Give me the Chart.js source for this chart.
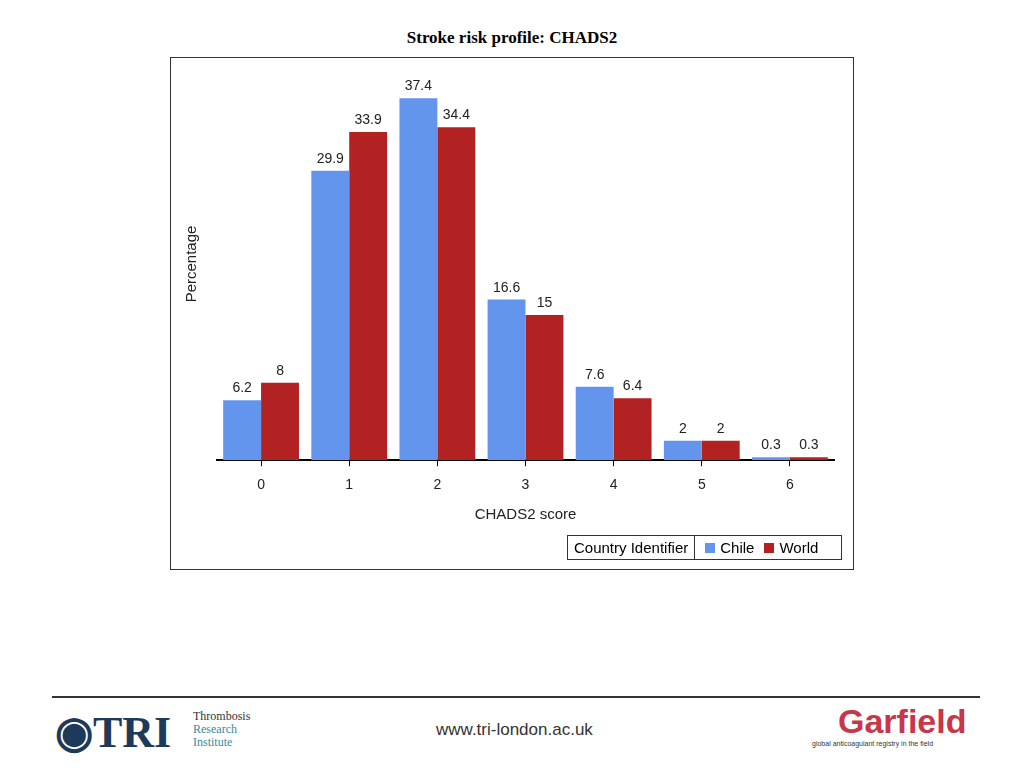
<!DOCTYPE html>
<html><head><meta charset="utf-8">
<script src="https://cdn.jsdelivr.net/npm/chart.js@4"></script>
<style>
body{margin:0;width:1024px;height:768px;background:#fff;position:relative;font-family:"Liberation Sans",Arial,sans-serif}
#title{position:absolute;top:28px;width:1024px;text-align:center;font:bold 17px "Liberation Serif",serif}
#box{position:absolute;left:170px;top:57px;width:682px;height:511px;border:1px solid #333}
#legend{position:absolute;left:567px;top:535px;width:273px;height:23px;border:1px solid #333;font-size:15px;display:flex;align-items:center}
#legend .k{border-right:1px solid #333;padding:0 6px;height:100%;display:flex;align-items:center}
.sw{display:inline-block;width:10px;height:10px;margin:0 5px 0 10px}
#foot{position:absolute;left:52px;top:696px;width:928px;border-top:2px solid #333}
</style></head><body>
<div id="title">Stroke risk profile: CHADS2</div>
<div id="box"><canvas id="c" width="682" height="511"></canvas></div>
<div id="legend"><span class="k">Country Identifier</span><span class="sw" style="background:#6495ed"></span>Chile<span class="sw" style="background:#b22222"></span>World</div>
<div id="foot"></div>
<div style="position:absolute;left:55px;top:706px;font:bold 44px 'Liberation Serif',serif;color:#1e3a5a">◉TRI</div>
<div style="position:absolute;left:193px;top:710px;font:12px 'Liberation Serif',serif;line-height:13px;color:#333">Thrombosis<br><span style="color:#3a8a9a">Research<br>Institute</span></div>
<div style="position:absolute;left:436px;top:720px;font-size:17px;color:#333">www.tri-london.ac.uk</div>
<div style="position:absolute;left:838px;top:702px;font:bold 34px 'Liberation Sans',sans-serif;color:#c8364a">Garfield</div>
<div style="position:absolute;left:812px;top:740px;font-size:7px;color:#333">global anticoagulant registry in the field</div>
<script>
const categories = ['0','1','2','3','4','5','6'];
const chile = [6.2, 29.9, 37.4, 16.6, 7.6, 2, 0.3];
const world = [8, 33.9, 34.4, 15, 6.4, 2, 0.3];

const labelPlugin = {
  id: 'labels',
  afterDatasetsDraw(chart) {
    const ctx = chart.ctx;
    ctx.save();
    ctx.fillStyle = '#222';
    ctx.font = '14px "Liberation Sans", Arial';
    ctx.textAlign = 'center';
    chart.data.datasets.forEach((ds, i) => {
      chart.getDatasetMeta(i).data.forEach((bar, j) => {
        ctx.fillText(String(ds.data[j]), bar.x, bar.y - 8);
      });
    });
    ctx.translate(25, 206);
    ctx.rotate(-Math.PI / 2);
    ctx.font = '15px "Liberation Sans", Arial';
    ctx.fillText('Percentage', 0, 0);
    ctx.restore();
  }
};

new Chart(document.getElementById('c'), {
  type: 'bar',
  data: {
    labels: categories,
    datasets: [
      { label: 'Chile', data: chile, backgroundColor: '#6495ed' },
      { label: 'World', data: world, backgroundColor: '#b22222' }
    ]
  },
  options: {
    responsive: false,
    animation: false,
    layout: { padding: { left: 46, right: 19, top: 15 } },
    datasets: { bar: { categoryPercentage: 0.86, barPercentage: 1 } },
    plugins: { legend: { display: false }, tooltip: { enabled: false } },
    scales: {
      y: { display: false, min: 0, max: 40 },
      x: {
        grid: { drawOnChartArea: false, offset: false, color: '#000', tickLength: 6 },
        border: { color: '#000', width: 2 },
        ticks: { color: '#222', font: { size: 14, family: 'Liberation Sans' }, padding: 11 },
        title: { display: true, text: 'CHADS2 score', color: '#222', font: { size: 15, family: 'Liberation Sans' }, padding: { top: 1, bottom: 45 } }
      }
    }
  },
  plugins: [labelPlugin]
});
</script>
</body></html>
